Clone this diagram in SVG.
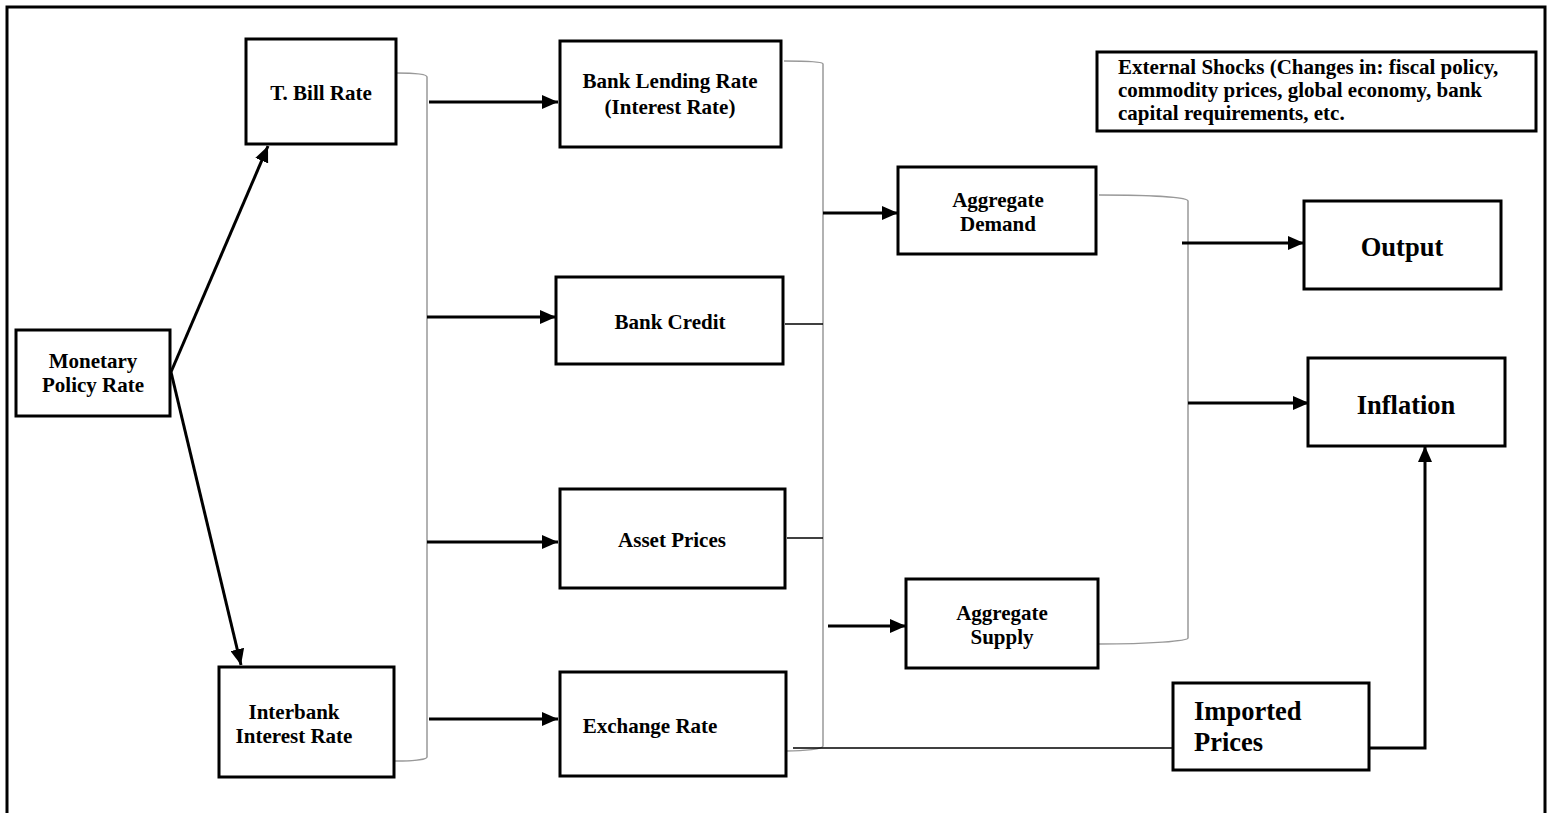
<svg xmlns="http://www.w3.org/2000/svg" width="1549" height="813" viewBox="0 0 1549 813">
  <style>
    .box { fill: #fff; stroke: #000; stroke-width: 3; }
    .lbl { font-family: "Liberation Serif", "Times New Roman", serif; font-weight: bold; font-size: 21px; fill: #000; text-anchor: middle; }
    .big { font-size: 26.5px; }
    .left { text-anchor: start; }
    .arrow { fill: none; stroke: #000; stroke-width: 3; marker-end: url(#head); }
    .brace { fill: none; stroke: #999; stroke-width: 1.5; }
    .thin { fill: none; stroke: #000; stroke-width: 1.5; }
  </style>
  <defs>
    <marker id="head" markerUnits="userSpaceOnUse" markerWidth="18" markerHeight="14" refX="16" refY="7" orient="auto">
      <path d="M0,0 L16,7 L0,14 Z" fill="#000"/>
    </marker>
  </defs>

  <rect width="1549" height="813" fill="#fff"/>
  <!-- outer frame, open at the bottom -->
  <path d="M7,813 V7 H1545 V813" fill="none" stroke="#000" stroke-width="3"/>

  <g id="connectors">
    <!-- policy rate fan-out -->
    <line class="arrow" x1="171" y1="372" x2="268" y2="146"/>
    <line class="arrow" x1="171" y1="372" x2="241" y2="665"/>

    <!-- first brace: T-bill / interbank -->
    <path class="brace" d="M396,73 C415,73 427,74 427,77 V757 C427,760 410,761 395,761"/>
    <line class="arrow" x1="429" y1="102" x2="558" y2="102"/>
    <line class="arrow" x1="427" y1="317" x2="556" y2="317"/>
    <line class="arrow" x1="427" y1="542" x2="558" y2="542"/>
    <line class="arrow" x1="429" y1="719" x2="558" y2="719"/>

    <!-- second brace: transmission channels -->
    <path class="brace" d="M784,61 C808,61 823,62 823,64 V746 C823,749 805,751 786,751"/>
    <line class="thin" x1="785" y1="324" x2="823" y2="324"/>
    <line class="thin" x1="787" y1="538" x2="823" y2="538"/>
    <line class="arrow" x1="823" y1="213" x2="898" y2="213"/>
    <line class="arrow" x1="828" y1="626" x2="906" y2="626"/>

    <!-- exchange rate to imported prices -->
    <line class="thin" x1="793" y1="748" x2="1173" y2="748"/>

    <!-- third brace: demand / supply -->
    <path class="brace" d="M1099,195 C1150,195 1188,197 1188,201 V638 C1188,641 1150,644 1099,644"/>
    <line class="arrow" x1="1182" y1="243" x2="1304" y2="243"/>
    <line class="arrow" x1="1188" y1="403" x2="1309" y2="403"/>

    <!-- imported prices to inflation -->
    <path class="arrow" d="M1369,748 H1425 V446"/>
  </g>

  <g id="policy-rate">
    <rect class="box" x="16" y="330" width="154" height="86"/>
    <text class="lbl" x="93" y="368">Monetary</text>
    <text class="lbl" x="93" y="392">Policy Rate</text>
  </g>

  <g id="tbill-rate">
    <rect class="box" x="246" y="39" width="150" height="105"/>
    <text class="lbl" x="321" y="100">T. Bill Rate</text>
  </g>

  <g id="interbank-rate">
    <rect class="box" x="219" y="667" width="175" height="110"/>
    <text class="lbl" x="294" y="719">Interbank</text>
    <text class="lbl" x="294" y="743">Interest Rate</text>
  </g>

  <g id="lending-rate">
    <rect class="box" x="560" y="41" width="221" height="106"/>
    <text class="lbl" x="670" y="88">Bank Lending Rate</text>
    <text class="lbl" x="670" y="114">(Interest Rate)</text>
  </g>

  <g id="bank-credit">
    <rect class="box" x="556" y="277" width="227" height="87"/>
    <text class="lbl" x="670" y="329">Bank Credit</text>
  </g>

  <g id="asset-prices">
    <rect class="box" x="560" y="489" width="225" height="99"/>
    <text class="lbl" x="672" y="547">Asset Prices</text>
  </g>

  <g id="exchange-rate">
    <rect class="box" x="560" y="672" width="226" height="104"/>
    <text class="lbl" x="650" y="733">Exchange Rate</text>
  </g>

  <g id="aggregate-demand">
    <rect class="box" x="898" y="167" width="198" height="87"/>
    <text class="lbl" x="998" y="207">Aggregate</text>
    <text class="lbl" x="998" y="231">Demand</text>
  </g>

  <g id="aggregate-supply">
    <rect class="box" x="906" y="579" width="192" height="89"/>
    <text class="lbl" x="1002" y="620">Aggregate</text>
    <text class="lbl" x="1002" y="644">Supply</text>
  </g>

  <g id="output">
    <rect class="box" x="1304" y="201" width="197" height="88"/>
    <text class="lbl big" x="1402" y="256">Output</text>
  </g>

  <g id="inflation">
    <rect class="box" x="1308" y="358" width="197" height="88"/>
    <text class="lbl big" x="1406" y="414">Inflation</text>
  </g>

  <g id="imported-prices">
    <rect class="box" x="1173" y="683" width="196" height="87"/>
    <text class="lbl big left" x="1194" y="720">Imported</text>
    <text class="lbl big left" x="1194" y="751">Prices</text>
  </g>

  <g id="external-shocks">
    <rect class="box" x="1097" y="52" width="439" height="79"/>
    <text class="lbl left" x="1118" y="74">External Shocks (Changes in: fiscal policy,</text>
    <text class="lbl left" x="1118" y="97">commodity prices, global economy, bank</text>
    <text class="lbl left" x="1118" y="120">capital requirements, etc.</text>
  </g>
</svg>
